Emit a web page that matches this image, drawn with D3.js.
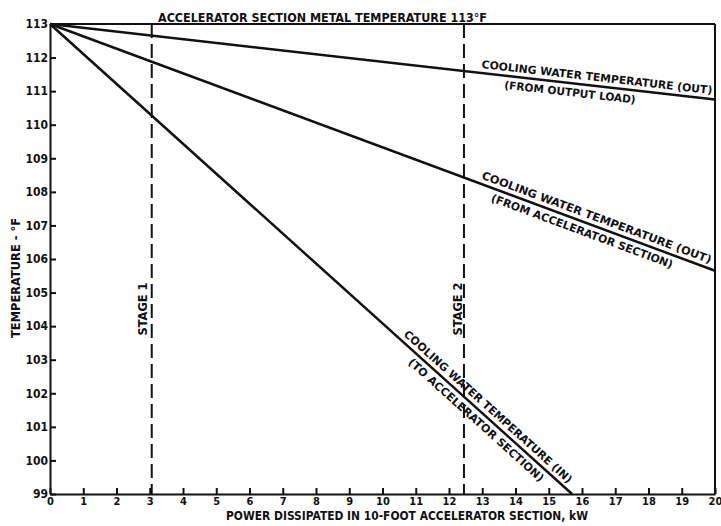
<!DOCTYPE html>
<html>
<head>
<meta charset="utf-8">
<script src="https://cdn.jsdelivr.net/npm/d3@7"></script>
<style>
  body { margin: 0; background: #fff; }
  text { font-family: "Liberation Sans Narrow", "DejaVu Sans Condensed", "Liberation Sans", sans-serif; font-weight: bold; fill: #111; }
  .axis path, .axis line { stroke: #111; stroke-width: 2; }
</style>
</head>
<body>
<div id="chart"></div>
<script>
// data
var xTickLabels = [0, 1, 2, 3, 4, 5, 6, 7, 8, 9, 10, 11, 12, 13, 14, 15, 16, 17, 18, 19, 20];
var yTickLabels = [99, 100, 101, 102, 103, 104, 105, 106, 107, 108, 109, 110, 111, 112, 113];
var metalTemp = 113;
var outFromLoad = [[0, 113], [20, 110.75]];
var outFromAccel = [[0, 113], [20, 105.65]];
var inToAccel = [[0, 113], [15.7, 99]];
var stageNames = ["STAGE 1", "STAGE 2"];
var stageKW = [3.06, 12.45];

var W = 721, H = 526;
var margin = { top: 24, right: 6, bottom: 32, left: 50 };

var svg = d3.select("#chart").append("svg")
    .attr("width", W)
    .attr("height", H);

var x = d3.scaleLinear().domain([0, 20]).range([margin.left, W - margin.right]);
var y = d3.scaleLinear().domain([99, 113]).range([H - margin.bottom, margin.top]);

// axes, ticks point inward
var xAxis = d3.axisBottom(x).tickValues(xTickLabels).tickSize(-6).tickSizeOuter(0).tickPadding(3);
var yAxis = d3.axisLeft(y).tickValues(yTickLabels).tickSize(-6).tickSizeOuter(0).tickPadding(2);

svg.append("g")
    .attr("class", "axis")
    .attr("transform", "translate(0," + y(99) + ")")
    .call(xAxis)
    .selectAll("text").style("font-size", "11px");

svg.append("g")
    .attr("class", "axis")
    .attr("transform", "translate(" + x(0) + ",0)")
    .call(yAxis)
    .selectAll("text").style("font-size", "12px");

// metal temperature line on top and right border
svg.append("line")
    .attr("x1", x(0)).attr("x2", x(20))
    .attr("y1", y(metalTemp)).attr("y2", y(metalTemp))
    .attr("stroke", "#111").attr("stroke-width", 2);
svg.append("line")
    .attr("x1", x(20)).attr("x2", x(20))
    .attr("y1", y(113)).attr("y2", y(99))
    .attr("stroke", "#111").attr("stroke-width", 2);

svg.append("text")
    .attr("x", 158).attr("y", 22)
    .attr("textLength", 329).attr("lengthAdjust", "spacingAndGlyphs")
    .style("font-size", "13px")
    .text("ACCELERATOR SECTION METAL TEMPERATURE 113°F");

// stage lines
var stageOff = [-5, -2];
stageKW.forEach(function(kw, i) {
    svg.append("line")
        .attr("x1", x(kw)).attr("x2", x(kw))
        .attr("y1", y(113)).attr("y2", y(99))
        .attr("stroke", "#111").attr("stroke-width", 2)
        .attr("stroke-dasharray", "14,6");
    svg.append("text")
        .attr("transform", "translate(" + (x(kw) + stageOff[i]) + "," + 309 + ") rotate(-90)")
        .attr("text-anchor", "middle")
        .attr("textLength", 53).attr("lengthAdjust", "spacingAndGlyphs")
        .style("font-size", "12px")
        .text(stageNames[i]);
});

// temperature lines
var line = d3.line()
    .x(function(d) { return x(d[0]); })
    .y(function(d) { return y(d[1]); });

[outFromLoad, outFromAccel, inToAccel].forEach(function(s) {
    svg.append("path")
        .datum(s)
        .attr("d", line)
        .attr("fill", "none")
        .attr("stroke", "#111")
        .attr("stroke-width", 2.5);
});

// labels along the lines
function lineLabel(s, kw, dy, len, txt) {
    var a = s[0], b = s[1];
    var ang = Math.atan2(y(b[1]) - y(a[1]), x(b[0]) - x(a[0])) * 180 / Math.PI;
    var t = a[1] + (b[1] - a[1]) * (kw - a[0]) / (b[0] - a[0]);
    svg.append("text")
        .attr("transform", "translate(" + x(kw) + "," + y(t) + ") rotate(" + ang + ")")
        .attr("text-anchor", "middle")
        .attr("dy", dy)
        .attr("textLength", len).attr("lengthAdjust", "spacingAndGlyphs")
        .style("font-size", "11px")
        .text(txt);
}
lineLabel(outFromLoad, 16.42, -5, 232, "COOLING WATER TEMPERATURE (OUT)");
lineLabel(outFromLoad, 15.67, 13, 132, "(FROM OUTPUT LOAD)");
lineLabel(outFromAccel, 16.35, -5, 244, "COOLING WATER TEMPERATURE (OUT)");
lineLabel(outFromAccel, 16.1, 13, 193, "(FROM ACCELERATOR SECTION)");
lineLabel(inToAccel, 13.0, -5, 222, "COOLING WATER TEMPERATURE (IN)");
lineLabel(inToAccel, 13.0, 13, 178, "(TO ACCELERATOR SECTION)");

// axis titles
svg.append("text")
    .attr("x", 407).attr("y", 520)
    .attr("text-anchor", "middle")
    .attr("textLength", 362).attr("lengthAdjust", "spacingAndGlyphs")
    .style("font-size", "11.5px")
    .text("POWER DISSIPATED IN 10-FOOT ACCELERATOR SECTION, kW");

svg.append("text")
    .attr("transform", "translate(20,278) rotate(-90)")
    .attr("text-anchor", "middle")
    .attr("textLength", 120).attr("lengthAdjust", "spacingAndGlyphs")
    .style("font-size", "12px")
    .text("TEMPERATURE - °F");
</script>
</body>
</html>
